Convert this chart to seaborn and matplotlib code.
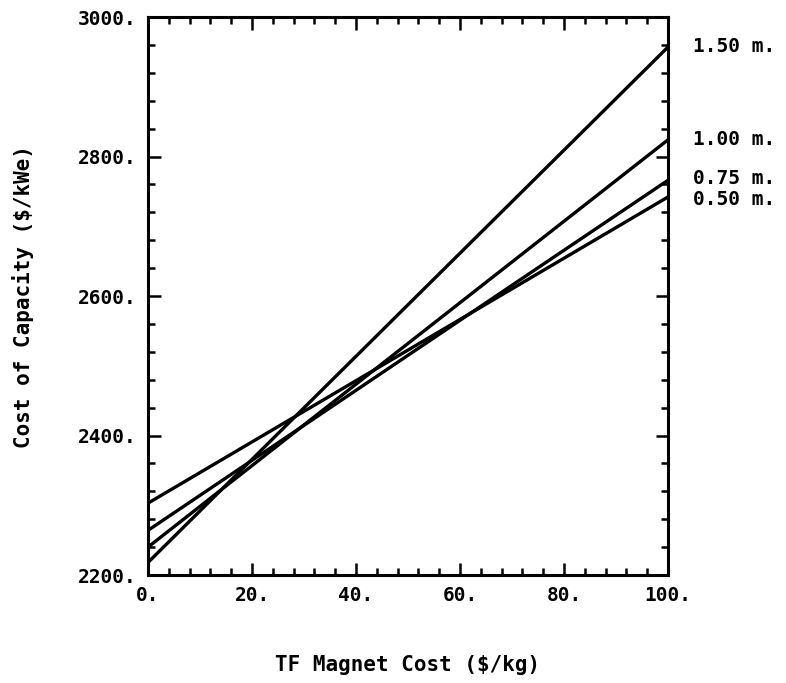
import matplotlib
matplotlib.use("Agg")
import matplotlib.pyplot as plt
import seaborn as sns
import pandas as pd
from matplotlib.ticker import MultipleLocator

# Data
magnet_cost = [0, 100]
series_names = ["1.50 m.", "1.00 m.", "0.75 m.", "0.50 m."]
cost_150 = [2218, 2957]
cost_100 = [2240, 2824]
cost_075 = [2264, 2766]
cost_050 = [2303, 2742]
x_ticks = [0, 20, 40, 60, 80, 100]
x_tick_labels = ["0.", "20.", "40.", "60.", "80.", "100."]
y_ticks = [2200, 2400, 2600, 2800, 3000]
y_tick_labels = ["2200.", "2400.", "2600.", "2800.", "3000."]

values = [cost_150, cost_100, cost_075, cost_050]
rows = []
for name, vals in zip(series_names, values):
    for x, y in zip(magnet_cost, vals):
        rows.append({"x": x, "y": y, "series": name})
df = pd.DataFrame(rows)

sns.set_style("white")
plt.rcParams["font.family"] = ["DejaVu Sans Mono"]
plt.rcParams["font.weight"] = "bold"
plt.rcParams["text.color"] = "black"
plt.rcParams["axes.labelcolor"] = "black"
plt.rcParams["xtick.color"] = "black"
plt.rcParams["ytick.color"] = "black"

fig = plt.figure(figsize=(7.86, 6.83), dpi=100)
ax = fig.add_axes([0.1883, 0.1581, 0.6616, 0.8170])

sns.lineplot(data=df, x="x", y="y", hue="series", units="series", estimator=None,
             palette=["black"] * 4, linewidth=2.4, legend=False, ax=ax)

ax.set_xlim(0, 100)
ax.set_ylim(2200, 3000)
ax.set_xticks(x_ticks)
ax.set_xticklabels(x_tick_labels, fontsize=14, fontweight="bold")
ax.set_yticks(y_ticks)
ax.set_yticklabels(y_tick_labels, fontsize=14, fontweight="bold")
ax.xaxis.set_minor_locator(MultipleLocator(4))
ax.yaxis.set_minor_locator(MultipleLocator(40))
ax.tick_params(which="both", direction="in", top=True, right=True, bottom=True, left=True,
               width=1.8, color="black", labelcolor="black")
ax.tick_params(which="major", length=9, pad=8)
ax.tick_params(which="minor", length=5)
for s in ax.spines.values():
    s.set_linewidth(2.2)
    s.set_color("black")

ax.set_xlabel("TF Magnet Cost ($/kg)", fontsize=15, fontweight="bold", labelpad=36, color="black")
ax.set_ylabel("Cost of Capacity ($/kWe)", fontsize=15, fontweight="bold", labelpad=32, color="black")

# right-side labels
label_y = [2957, 2824, 2768, 2738]
for name, yv in zip(series_names, label_y):
    ax.annotate(name, xy=(100, yv), xytext=(18, 0), textcoords="offset points",
                va="center", ha="left", fontsize=14, fontweight="bold", color="black",
                annotation_clip=False)

fig.savefig("out.png", dpi=100)
